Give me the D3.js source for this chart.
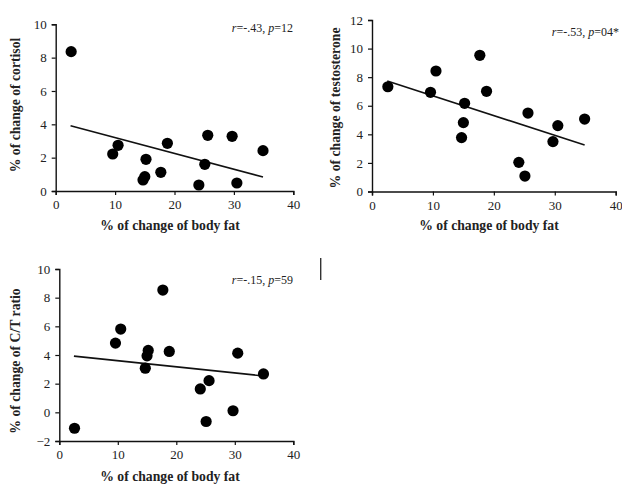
<!DOCTYPE html>
<html><head><meta charset="utf-8">
<script src="https://cdn.jsdelivr.net/npm/d3@7"></script>
<style>
html,body{margin:0;padding:0;background:#fff;}
svg{display:block;}
.tick text{font-family:"Liberation Serif",serif;font-size:13px;fill:#222;}
</style></head>
<body>
<svg id="c" width="622" height="484"></svg>
<script>
// shared x values: % of change of body fat
const bodyFat = [2.6, 9.6, 10.5, 14.7, 15.0, 15.2, 17.7, 18.8, 24.1, 25.1, 25.6, 29.7, 30.5, 34.9];
const cortisol = [8.36, 2.22, 2.74, 0.66, 0.86, 1.90, 1.12, 2.86, 0.36, 1.60, 3.34, 3.28, 0.48, 2.42];
const testosterone = [7.33, 6.94, 8.43, 3.77, 4.82, 6.17, 9.53, 7.01, 2.04, 1.08, 5.49, 3.49, 4.61, 5.07];
const ctRatio = [-1.11, 4.83, 5.81, 3.08, 3.94, 4.32, 8.53, 4.25, 1.63, -0.64, 2.21, 0.11, 4.13, 2.68];
// trend line end points
const trendX = [2.5, 34.9];
const trendCortisol = [3.92, 0.84];
const trendTestosterone = [7.73, 3.25];
const trendCT = [3.92, 2.54];
const xTicks = [0, 10, 20, 30, 40];
const yTicksCortisol = [0, 2, 4, 6, 8, 10];
const yTicksTestosterone = [0, 2, 4, 6, 8, 10, 12];
const yTicksCT = [-2, 0, 2, 4, 6, 8, 10];
const yLabels = ["% of change of cortisol", "% of change of testosterone", "% of change of C/T ratio"];
const xLabel = "% of change of body fat";
const stats = [
  {r: "-.43", p: "12"},
  {r: "-.53", p: "04*"},
  {r: "-.15", p: "59"}
];

const svg = d3.select("#c");

const panels = [
  {vals: cortisol, trend: trendCortisol, yTicks: yTicksCortisol, yDom: [0, 10],
   xr: [55.7, 293.3], yr: [191, 24.3], ylab: yLabels[0], st: stats[0],
   ylx: 17, yly: 105, xlx: 170, xly: 230, stx: 293, sty: 32},
  {vals: testosterone, trend: trendTestosterone, yTicks: yTicksTestosterone, yDom: [0, 12],
   xr: [372, 615.7], yr: [191.5, 20], ylab: yLabels[1], st: stats[1],
   ylx: 337, yly: 108, xlx: 489, xly: 230, stx: 619, sty: 36},
  {vals: ctRatio, trend: trendCT, yTicks: yTicksCT, yDom: [-2, 10],
   xr: [59.3, 293.3], yr: [441, 269], ylab: yLabels[2], st: stats[2],
   ylx: 17, yly: 361, xlx: 170, xly: 481, stx: 293, sty: 284}
];

panels.forEach(p => {
  const x = d3.scaleLinear().domain([0, 40]).range(p.xr);
  const y = d3.scaleLinear().domain(p.yDom).range(p.yr);
  const g = svg.append("g");

  const xa = g.append("g").attr("transform", `translate(0,${p.yr[0]})`)
    .call(d3.axisBottom(x).tickValues(xTicks).tickSizeOuter(0).tickSize(4).tickPadding(5));
  const ya = g.append("g").attr("transform", `translate(${p.xr[0]},0)`)
    .call(d3.axisLeft(y).tickValues(p.yTicks).tickSizeOuter(0).tickSize(4).tickPadding(5));
  [xa, ya].forEach(a => {
    a.select(".domain").attr("stroke", "#111").attr("stroke-width", 1.4);
    a.selectAll(".tick line").attr("stroke", "#111").attr("stroke-width", 1.2);
  });

  // trend line
  g.append("path")
    .datum(trendX.map((v, i) => [v, p.trend[i]]))
    .attr("d", d3.line().x(d => x(d[0])).y(d => y(d[1])))
    .attr("stroke", "#111").attr("stroke-width", 1.6).attr("fill", "none");

  // points
  g.selectAll("circle.pt").data(bodyFat.map((v, i) => [v, p.vals[i]]))
    .join("circle").attr("class", "pt")
    .attr("cx", d => x(d[0])).attr("cy", d => y(d[1])).attr("r", 5.6).attr("fill", "#000");

  // axis titles
  g.append("text").attr("x", p.xlx).attr("y", p.xly).attr("text-anchor", "middle")
    .attr("font-family", "Liberation Serif, serif").attr("font-weight", "bold").attr("font-size", 13.7)
    .attr("fill", "#222").text(xLabel);
  g.append("text").attr("transform", `translate(${p.ylx},${p.yly}) rotate(-90)`)
    .attr("text-anchor", "middle").attr("dominant-baseline", "middle")
    .attr("font-family", "Liberation Serif, serif").attr("font-weight", "bold").attr("font-size", 13.7)
    .attr("fill", "#222").text(p.ylab);

  // stats annotation
  const t = g.append("text").attr("x", p.stx).attr("y", p.sty).attr("text-anchor", "end")
    .attr("font-family", "Liberation Serif, serif").attr("font-size", 12).attr("fill", "#222");
  t.append("tspan").attr("font-style", "italic").text("r");
  t.append("tspan").text("=" + p.st.r + ", ");
  t.append("tspan").attr("font-style", "italic").text("p");
  t.append("tspan").text("=" + p.st.p);
});

// stray vertical mark in the reference
svg.append("line").attr("x1", 320.7).attr("x2", 320.7).attr("y1", 258).attr("y2", 280)
  .attr("stroke", "#333").attr("stroke-width", 1.4);
</script>
</body></html>
